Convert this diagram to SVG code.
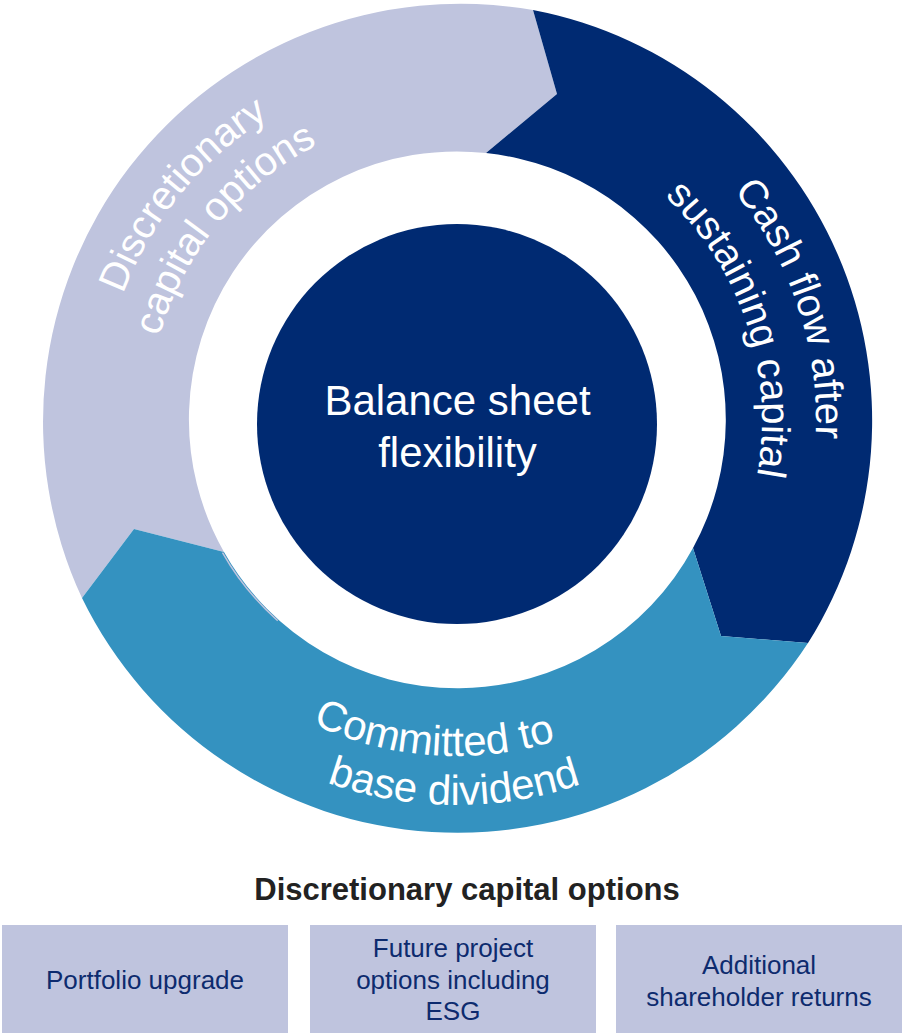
<svg xmlns="http://www.w3.org/2000/svg" width="904" height="1035" viewBox="0 0 904 1035">
<style>
.light{fill:#BFC4DE}
.dark{fill:#002A72}
.mid{fill:#3492C0}
.ring{font-family:"Liberation Sans",Arial,sans-serif;font-size:40px;fill:#FFFFFF}
.ctr{font-family:"Liberation Sans",Arial,sans-serif;font-size:42px;fill:#FFFFFF;text-anchor:middle}
.title{font-family:"Liberation Sans",Arial,sans-serif;font-size:31px;font-weight:bold;fill:#222222;text-anchor:middle}
.box{fill:#BFC4DE}
.btxt{font-family:"Liberation Sans",Arial,sans-serif;font-size:26px;fill:#0D2B6E;text-anchor:middle}
</style>
<defs>
<path id="pL1" d="M122.5,544.7 A356,356 0 0 1 514.7,68.9"/>
<path id="pL2" d="M167.5,527.9 A308,308 0 0 1 506.8,116.2"/>
<path id="pR1" d="M529.0,67.5 A360,360 0 0 1 724.8,659.5"/>
<path id="pR2" d="M518.1,120.4 A306,306 0 0 1 684.5,623.6"/>
<path id="pB1" d="M154.0,567.3 A336,336 0 0 0 734.5,607.9"/>
<path id="pB2" d="M121.6,610.8 A385,385 0 0 0 788.4,614.2"/>
</defs>
<g id="seg-discretionary">
<path class="light" d="M82,598 A418,418 0 0 1 533,10 L557,94 L486,153 A268,268 0 0 0 224,552 L134,529 Z"/>
<text class="ring"><textPath href="#pL1" startOffset="50%" text-anchor="middle">Discretionary</textPath></text>
<text class="ring"><textPath href="#pL2" startOffset="50%" text-anchor="middle">capital options</textPath></text>
</g>
<g id="seg-cashflow">
<path class="dark" d="M533,10 A418,418 0 0 1 808,643 L721,636 L693,548 A268,268 0 0 0 486,153 L557,94 Z"/>
<text class="ring"><textPath href="#pR1" startOffset="50%" text-anchor="middle">Cash flow after</textPath></text>
<text class="ring"><textPath href="#pR2" startOffset="50%" text-anchor="middle">sustaining capital</textPath></text>
</g>
<g id="seg-dividend">
<path class="mid" d="M808,643 A418,418 0 0 1 82,598 L134,529 L224,552 A268,268 0 0 0 693,548 L721,636 Z"/>
<path d="M222.5,552.6 A268.5,268.5 0 0 0 277.7,620.8" fill="none" stroke="#BFC4DE" stroke-width="1.5"/>
<text class="ring" style="font-size:42px"><textPath href="#pB1" startOffset="50%" text-anchor="middle">Committed to</textPath></text>
<text class="ring" style="font-size:42px"><textPath href="#pB2" startOffset="50%" text-anchor="middle">base dividend</textPath></text>
</g>
<g id="center">
<circle class="dark" cx="457" cy="424" r="200"/>
<text class="ctr" x="457.5" y="415">Balance sheet</text>
<text class="ctr" x="457.5" y="467">flexibility</text>
</g>
<g id="connectors"></g>
<text class="title" x="467" y="900">Discretionary capital options</text>
<g id="box-portfolio">
<rect class="box" x="2" y="925" width="286" height="108"/>
<text class="btxt" x="145" y="989">Portfolio upgrade</text>
</g>
<g id="box-future">
<rect class="box" x="310" y="925" width="286" height="108"/>
<text class="btxt" x="453" y="957">Future project</text>
<text class="btxt" x="453" y="989">options including</text>
<text class="btxt" x="453" y="1020">ESG</text>
</g>
<g id="box-returns">
<rect class="box" x="616" y="925" width="286" height="108"/>
<text class="btxt" x="759" y="974">Additional</text>
<text class="btxt" x="759" y="1006">shareholder returns</text>
</g>
</svg>
